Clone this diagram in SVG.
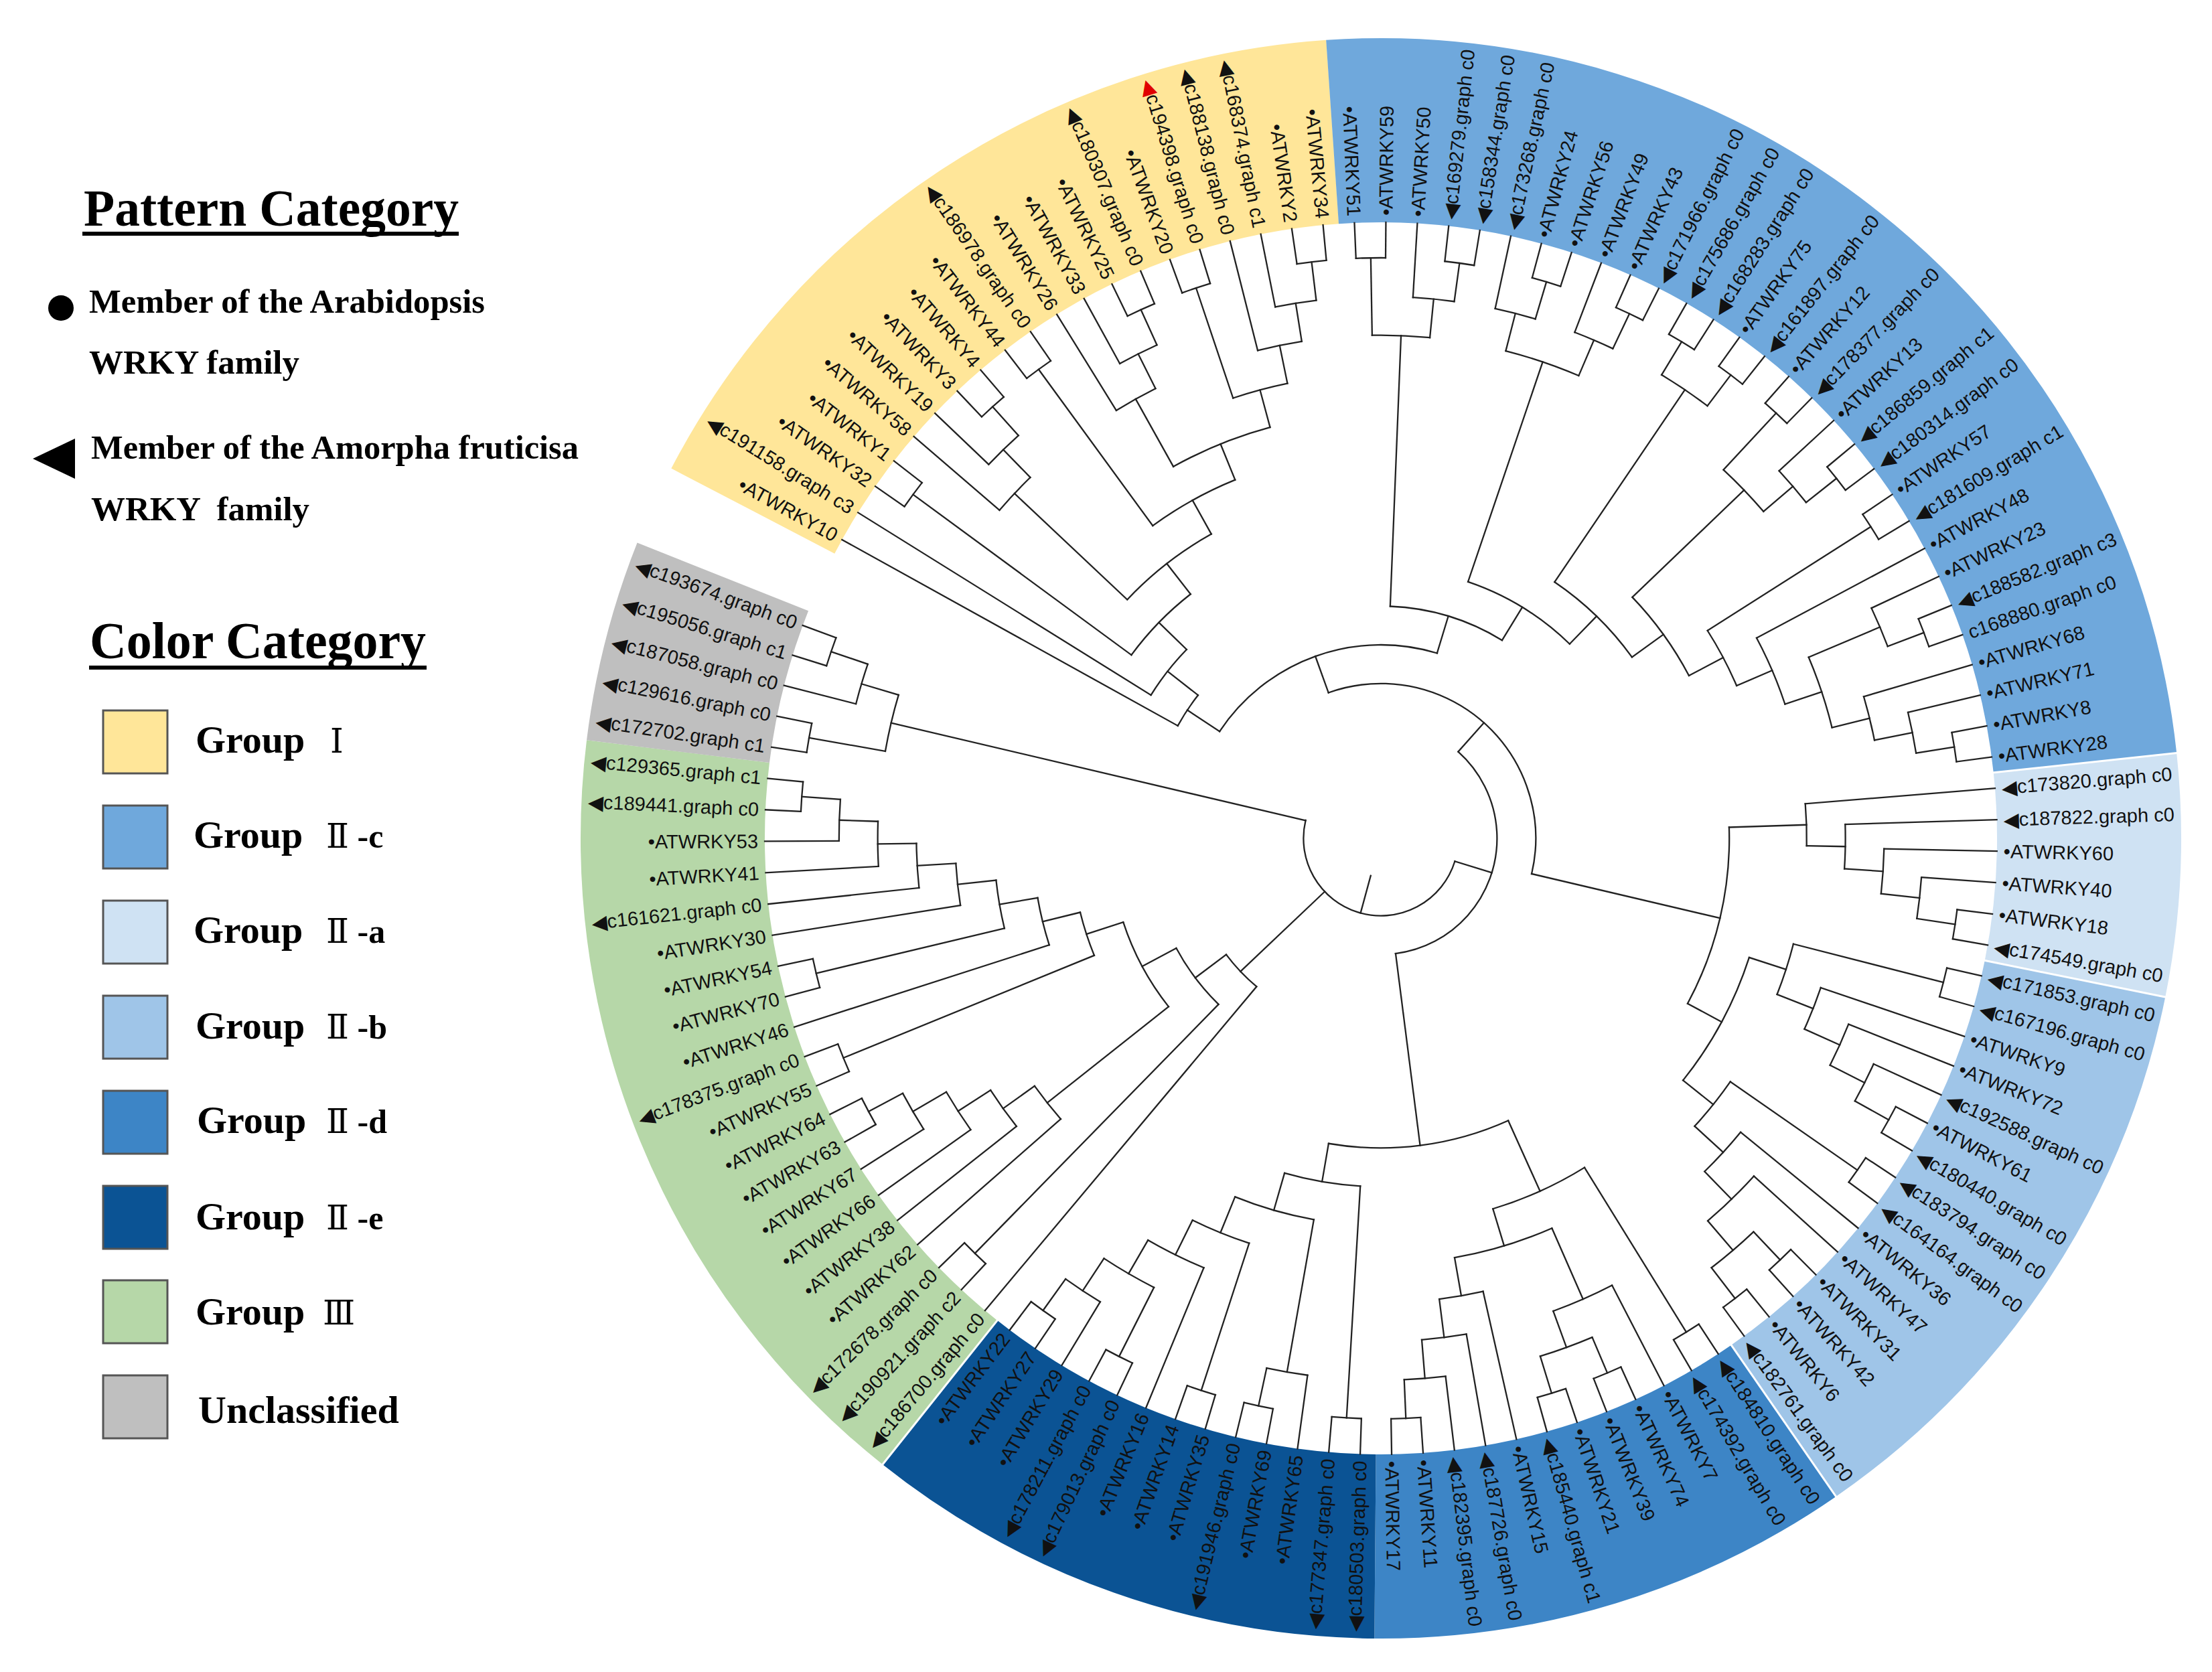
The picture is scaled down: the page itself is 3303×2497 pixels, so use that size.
<svg xmlns="http://www.w3.org/2000/svg" width="3303" height="2497" viewBox="0 0 3303 2497">
<style>
.t line{stroke:#222;stroke-width:2.3;stroke-linecap:square}
.t circle{fill:none;stroke:#222;stroke-width:2.3;stroke-linecap:square}
.b circle{fill:none;stroke-width:275}
.seam line{stroke:#fff;stroke-width:3}
.lb text{font-family:"Liberation Sans",Arial,sans-serif;font-size:29px;dominant-baseline:central;fill:#111}
.lb text.l{text-anchor:end}
.lb .m{font-family:"DejaVu Sans",sans-serif;font-size:30px}
.red{fill:#e00000}
.lg text{font-family:"Liberation Serif","Times New Roman",serif;font-weight:bold;fill:#000}
.lg text .rn{font-family:"Liberation Serif","DejaVu Serif","Noto Sans CJK SC",serif;font-weight:normal}
.box{stroke:#555;stroke-width:3}
</style>
<rect width="3303" height="2497" fill="#fff"/>
<g id="bands" class="b" transform="translate(2062 1252)">
<circle r="1057.5" stroke="#ffe699" stroke-dasharray="1080.4 9999" transform="rotate(-152.463)"/>
<circle r="1057.5" stroke="#6fa8dc" stroke-dasharray="1620.6 9999" transform="rotate(-93.927)"/>
<circle r="1057.5" stroke="#cfe2f3" stroke-dasharray="324.1 9999" transform="rotate(-6.122)"/>
<circle r="1057.5" stroke="#9fc5e8" stroke-dasharray="810.3 9999" transform="rotate(11.439)"/>
<circle r="1057.5" stroke="#3d85c6" stroke-dasharray="648.2 9999" transform="rotate(55.341)"/>
<circle r="1057.5" stroke="#0b5394" stroke-dasharray="702.3 9999" transform="rotate(90.463)"/>
<circle r="1057.5" stroke="#b6d7a8" stroke-dasharray="1080.4 9999" transform="rotate(128.512)"/>
<circle r="1057.5" stroke="#bfbfbf" stroke-dasharray="270.1 9999" transform="rotate(187.049)"/>
</g>
<g id="band-seams" class="seam" transform="translate(2062 1252)">
<line x1="918" x2="1200" transform="rotate(-6.122)"/>
<line x1="918" x2="1200" transform="rotate(11.439)"/>
<line x1="918" x2="1200" transform="rotate(55.341)"/>
<line x1="918" x2="1200" transform="rotate(128.512)"/>
</g>
<g id="connectors" class="t" transform="translate(2062 1252)">
<circle r="867" stroke-dasharray="44.29 9999" transform="rotate(-98.317)"/>
<circle r="809.2" stroke-dasharray="62 9999" transform="rotate(-101.244)"/>
<circle r="751.4" stroke-dasharray="67.17 9999" transform="rotate(-104.171)"/>
<circle r="867" stroke-dasharray="44.28 9999" transform="rotate(-110.024)"/>
<circle r="693.6" stroke-dasharray="84.15 9999" transform="rotate(-108.561)"/>
<circle r="867" stroke-dasharray="44.29 9999" transform="rotate(-115.878)"/>
<circle r="809.2" stroke-dasharray="62 9999" transform="rotate(-118.805)"/>
<circle r="751.4" stroke-dasharray="67.17 9999" transform="rotate(-121.732)"/>
<circle r="635.8" stroke-dasharray="156.3 9999" transform="rotate(-119.171)"/>
<circle r="867" stroke-dasharray="44.28 9999" transform="rotate(-127.585)"/>
<circle r="578" stroke-dasharray="141.16 9999" transform="rotate(-126.122)"/>
<circle r="867" stroke-dasharray="44.29 9999" transform="rotate(-133.439)"/>
<circle r="809.2" stroke-dasharray="62 9999" transform="rotate(-136.366)"/>
<circle r="751.4" stroke-dasharray="67.17 9999" transform="rotate(-139.293)"/>
<circle r="520.2" stroke-dasharray="159.85 9999" transform="rotate(-136.732)"/>
<circle r="867" stroke-dasharray="44.28 9999" transform="rotate(-145.146)"/>
<circle r="462.4" stroke-dasharray="127.14 9999" transform="rotate(-143.683)"/>
<circle r="404.6" stroke-dasharray="86.62 9999" transform="rotate(-148.073)"/>
<circle r="346.8" stroke-dasharray="54.84 9999" transform="rotate(-151)"/>
<circle r="867" stroke-dasharray="44.28 9999" transform="rotate(-92.463)"/>
<circle r="867" stroke-dasharray="44.29 9999" transform="rotate(-83.683)"/>
<circle r="809.2" stroke-dasharray="62 9999" transform="rotate(-86.61)"/>
<circle r="751.4" stroke-dasharray="86.36 9999" transform="rotate(-91)"/>
<circle r="867" stroke-dasharray="44.28 9999" transform="rotate(-74.902)"/>
<circle r="809.2" stroke-dasharray="62 9999" transform="rotate(-77.829)"/>
<circle r="867" stroke-dasharray="44.29 9999" transform="rotate(-66.122)"/>
<circle r="809.2" stroke-dasharray="62 9999" transform="rotate(-69.049)"/>
<circle r="751.4" stroke-dasharray="115.14 9999" transform="rotate(-75.634)"/>
<circle r="867" stroke-dasharray="44.29 9999" transform="rotate(-60.268)"/>
<circle r="867" stroke-dasharray="44.29 9999" transform="rotate(-54.415)"/>
<circle r="809.2" stroke-dasharray="82.66 9999" transform="rotate(-58.805)"/>
<circle r="867" stroke-dasharray="44.29 9999" transform="rotate(-48.561)"/>
<circle r="867" stroke-dasharray="44.28 9999" transform="rotate(-39.78)"/>
<circle r="809.2" stroke-dasharray="62 9999" transform="rotate(-42.707)"/>
<circle r="751.4" stroke-dasharray="86.37 9999" transform="rotate(-47.098)"/>
<circle r="867" stroke-dasharray="44.29 9999" transform="rotate(-33.927)"/>
<circle r="867" stroke-dasharray="44.29 9999" transform="rotate(-22.22)"/>
<circle r="809.2" stroke-dasharray="61.99 9999" transform="rotate(-25.146)"/>
<circle r="867" stroke-dasharray="44.29 9999" transform="rotate(-10.512)"/>
<circle r="809.2" stroke-dasharray="62 9999" transform="rotate(-13.439)"/>
<circle r="751.4" stroke-dasharray="67.17 9999" transform="rotate(-16.366)"/>
<circle r="693.6" stroke-dasharray="110.73 9999" transform="rotate(-22.952)"/>
<circle r="635.8" stroke-dasharray="107.57 9999" transform="rotate(-28.073)"/>
<circle r="578" stroke-dasharray="93.19 9999" transform="rotate(-32.464)"/>
<circle r="520.2" stroke-dasharray="144.9 9999" transform="rotate(-43.805)"/>
<circle r="462.4" stroke-dasharray="161.84 9999" transform="rotate(-55.879)"/>
<circle r="404.6" stroke-dasharray="179.31 9999" transform="rotate(-71.244)"/>
<circle r="346.8" stroke-dasharray="176.5 9999" transform="rotate(-87.708)"/>
<circle r="289" stroke-dasharray="369.94 9999" transform="rotate(-146.47)"/>
<circle r="867" stroke-dasharray="44.29 9999" transform="rotate(7.049)"/>
<circle r="809.2" stroke-dasharray="62.01 9999" transform="rotate(4.122)"/>
<circle r="751.4" stroke-dasharray="67.17 9999" transform="rotate(1.195)"/>
<circle r="693.6" stroke-dasharray="66.44 9999" transform="rotate(-1.732)"/>
<circle r="635.8" stroke-dasharray="62.93 9999" transform="rotate(-4.659)"/>
<circle r="867" stroke-dasharray="44.29 9999" transform="rotate(12.902)"/>
<circle r="867" stroke-dasharray="44.28 9999" transform="rotate(27.537)"/>
<circle r="809.2" stroke-dasharray="62 9999" transform="rotate(24.61)"/>
<circle r="751.4" stroke-dasharray="67.17 9999" transform="rotate(21.683)"/>
<circle r="693.6" stroke-dasharray="66.44 9999" transform="rotate(18.756)"/>
<circle r="635.8" stroke-dasharray="79.16 9999" transform="rotate(14.366)"/>
<circle r="867" stroke-dasharray="44.29 9999" transform="rotate(33.39)"/>
<circle r="867" stroke-dasharray="44.28 9999" transform="rotate(45.098)"/>
<circle r="867" stroke-dasharray="44.29 9999" transform="rotate(50.951)"/>
<circle r="809.2" stroke-dasharray="82.68 9999" transform="rotate(46.561)"/>
<circle r="751.4" stroke-dasharray="95.96 9999" transform="rotate(42.171)"/>
<circle r="693.6" stroke-dasharray="79.73 9999" transform="rotate(39.244)"/>
<circle r="635.8" stroke-dasharray="85.26 9999" transform="rotate(34.854)"/>
<circle r="578" stroke-dasharray="209.46 9999" transform="rotate(17.933)"/>
<circle r="520.2" stroke-dasharray="273.64 9999" transform="rotate(-1.824)"/>
<circle r="231.2" stroke-dasharray="496.51 9999" transform="rotate(-109.799)"/>
<circle r="867" stroke-dasharray="44.29 9999" transform="rotate(56.805)"/>
<circle r="867" stroke-dasharray="44.29 9999" transform="rotate(65.585)"/>
<circle r="867" stroke-dasharray="44.29 9999" transform="rotate(71.439)"/>
<circle r="809.2" stroke-dasharray="82.68 9999" transform="rotate(67.049)"/>
<circle r="751.4" stroke-dasharray="95.96 9999" transform="rotate(62.659)"/>
<circle r="867" stroke-dasharray="44.29 9999" transform="rotate(86.073)"/>
<circle r="809.2" stroke-dasharray="62.01 9999" transform="rotate(83.146)"/>
<circle r="751.4" stroke-dasharray="67.17 9999" transform="rotate(80.22)"/>
<circle r="693.6" stroke-dasharray="66.44 9999" transform="rotate(77.293)"/>
<circle r="635.8" stroke-dasharray="152.24 9999" transform="rotate(66.318)"/>
<circle r="578" stroke-dasharray="150.4 9999" transform="rotate(58.269)"/>
<circle r="867" stroke-dasharray="44.29 9999" transform="rotate(91.927)"/>
<circle r="867" stroke-dasharray="44.29 9999" transform="rotate(100.707)"/>
<circle r="809.2" stroke-dasharray="62.01 9999" transform="rotate(97.78)"/>
<circle r="867" stroke-dasharray="44.29 9999" transform="rotate(106.561)"/>
<circle r="867" stroke-dasharray="44.29 9999" transform="rotate(115.341)"/>
<circle r="867" stroke-dasharray="44.29 9999" transform="rotate(124.122)"/>
<circle r="809.2" stroke-dasharray="62.01 9999" transform="rotate(121.195)"/>
<circle r="751.4" stroke-dasharray="86.37 9999" transform="rotate(116.805)"/>
<circle r="693.6" stroke-dasharray="93.01 9999" transform="rotate(112.415)"/>
<circle r="635.8" stroke-dasharray="91.35 9999" transform="rotate(108.025)"/>
<circle r="578" stroke-dasharray="122.72 9999" transform="rotate(99.976)"/>
<circle r="520.2" stroke-dasharray="115.02 9999" transform="rotate(93.391)"/>
<circle r="462.4" stroke-dasharray="274.4 9999" transform="rotate(65.724)"/>
<circle r="173.4" stroke-dasharray="396.46 9999" transform="rotate(-48.277)"/>
<circle r="867" stroke-dasharray="44.29 9999" transform="rotate(132.902)"/>
<circle r="867" stroke-dasharray="44.29 9999" transform="rotate(150.463)"/>
<circle r="809.2" stroke-dasharray="62 9999" transform="rotate(147.537)"/>
<circle r="751.4" stroke-dasharray="67.17 9999" transform="rotate(144.61)"/>
<circle r="693.6" stroke-dasharray="66.44 9999" transform="rotate(141.683)"/>
<circle r="635.8" stroke-dasharray="62.93 9999" transform="rotate(138.756)"/>
<circle r="867" stroke-dasharray="44.29 9999" transform="rotate(156.317)"/>
<circle r="867" stroke-dasharray="44.28 9999" transform="rotate(182.659)"/>
<circle r="809.2" stroke-dasharray="62 9999" transform="rotate(179.732)"/>
<circle r="751.4" stroke-dasharray="67.17 9999" transform="rotate(176.805)"/>
<circle r="693.6" stroke-dasharray="66.44 9999" transform="rotate(173.878)"/>
<circle r="635.8" stroke-dasharray="62.93 9999" transform="rotate(170.951)"/>
<circle r="867" stroke-dasharray="44.28 9999" transform="rotate(165.098)"/>
<circle r="578" stroke-dasharray="72.9 9999" transform="rotate(166.561)"/>
<circle r="520.2" stroke-dasharray="72.66 9999" transform="rotate(162.171)"/>
<circle r="462.4" stroke-dasharray="67.73 9999" transform="rotate(157.781)"/>
<circle r="404.6" stroke-dasharray="143.95 9999" transform="rotate(141.592)"/>
<circle r="346.8" stroke-dasharray="105.43 9999" transform="rotate(134.366)"/>
<circle r="289" stroke-dasharray="66.08 9999" transform="rotate(129.976)"/>
<circle r="867" stroke-dasharray="44.29 9999" transform="rotate(188.512)"/>
<circle r="867" stroke-dasharray="44.29 9999" transform="rotate(197.293)"/>
<circle r="809.2" stroke-dasharray="62.01 9999" transform="rotate(194.366)"/>
<circle r="751.4" stroke-dasharray="86.37 9999" transform="rotate(189.976)"/>
<circle r="115.6" stroke-dasharray="355.19 9999" transform="rotate(17.224)"/>
<line x1="57.8" x2="115.6" transform="rotate(105.247)"/>
<line x1="809.2" x2="867" transform="rotate(-96.854)"/>
<line x1="751.4" x2="809.2" transform="rotate(-99.049)"/>
<line x1="693.6" x2="751.4" transform="rotate(-101.61)"/>
<line x1="693.6" x2="867" transform="rotate(-108.561)"/>
<line x1="635.8" x2="693.6" transform="rotate(-105.086)"/>
<line x1="809.2" x2="867" transform="rotate(-114.415)"/>
<line x1="751.4" x2="809.2" transform="rotate(-116.61)"/>
<line x1="635.8" x2="751.4" transform="rotate(-119.171)"/>
<line x1="578" x2="635.8" transform="rotate(-112.129)"/>
<line x1="578" x2="867" transform="rotate(-126.122)"/>
<line x1="520.2" x2="578" transform="rotate(-119.126)"/>
<line x1="809.2" x2="867" transform="rotate(-131.976)"/>
<line x1="751.4" x2="809.2" transform="rotate(-134.171)"/>
<line x1="520.2" x2="751.4" transform="rotate(-136.732)"/>
<line x1="462.4" x2="520.2" transform="rotate(-127.929)"/>
<line x1="462.4" x2="867" transform="rotate(-143.683)"/>
<line x1="404.6" x2="462.4" transform="rotate(-135.806)"/>
<line x1="346.8" x2="404.6" transform="rotate(-141.94)"/>
<line x1="289" x2="346.8" transform="rotate(-146.47)"/>
<line x1="751.4" x2="867" transform="rotate(-91)"/>
<line x1="809.2" x2="867" transform="rotate(-82.22)"/>
<line x1="751.4" x2="809.2" transform="rotate(-84.415)"/>
<line x1="346.8" x2="751.4" transform="rotate(-87.708)"/>
<line x1="809.2" x2="867" transform="rotate(-73.439)"/>
<line x1="751.4" x2="809.2" transform="rotate(-75.634)"/>
<line x1="809.2" x2="867" transform="rotate(-64.659)"/>
<line x1="751.4" x2="809.2" transform="rotate(-66.854)"/>
<line x1="404.6" x2="751.4" transform="rotate(-71.244)"/>
<line x1="809.2" x2="867" transform="rotate(-58.805)"/>
<line x1="809.2" x2="867" transform="rotate(-52.952)"/>
<line x1="462.4" x2="809.2" transform="rotate(-55.879)"/>
<line x1="751.4" x2="867" transform="rotate(-47.098)"/>
<line x1="809.2" x2="867" transform="rotate(-38.317)"/>
<line x1="751.4" x2="809.2" transform="rotate(-40.512)"/>
<line x1="520.2" x2="751.4" transform="rotate(-43.805)"/>
<line x1="578" x2="867" transform="rotate(-32.464)"/>
<line x1="809.2" x2="867" transform="rotate(-20.757)"/>
<line x1="693.6" x2="809.2" transform="rotate(-22.952)"/>
<line x1="809.2" x2="867" transform="rotate(-9.049)"/>
<line x1="751.4" x2="809.2" transform="rotate(-11.244)"/>
<line x1="693.6" x2="751.4" transform="rotate(-13.805)"/>
<line x1="635.8" x2="693.6" transform="rotate(-18.379)"/>
<line x1="578" x2="635.8" transform="rotate(-23.226)"/>
<line x1="520.2" x2="578" transform="rotate(-27.845)"/>
<line x1="462.4" x2="520.2" transform="rotate(-35.825)"/>
<line x1="404.6" x2="462.4" transform="rotate(-45.852)"/>
<line x1="346.8" x2="404.6" transform="rotate(-58.548)"/>
<line x1="289" x2="346.8" transform="rotate(-73.128)"/>
<line x1="231.2" x2="289" transform="rotate(-109.799)"/>
<line x1="809.2" x2="867" transform="rotate(8.513)"/>
<line x1="751.4" x2="809.2" transform="rotate(6.317)"/>
<line x1="693.6" x2="751.4" transform="rotate(3.756)"/>
<line x1="635.8" x2="693.6" transform="rotate(1.012)"/>
<line x1="520.2" x2="635.8" transform="rotate(-1.824)"/>
<line x1="635.8" x2="867" transform="rotate(14.366)"/>
<line x1="809.2" x2="867" transform="rotate(29)"/>
<line x1="751.4" x2="809.2" transform="rotate(26.805)"/>
<line x1="693.6" x2="751.4" transform="rotate(24.244)"/>
<line x1="635.8" x2="693.6" transform="rotate(21.5)"/>
<line x1="578" x2="635.8" transform="rotate(17.933)"/>
<line x1="635.8" x2="867" transform="rotate(34.854)"/>
<line x1="809.2" x2="867" transform="rotate(46.561)"/>
<line x1="809.2" x2="867" transform="rotate(52.415)"/>
<line x1="751.4" x2="809.2" transform="rotate(49.488)"/>
<line x1="693.6" x2="751.4" transform="rotate(45.83)"/>
<line x1="635.8" x2="693.6" transform="rotate(42.537)"/>
<line x1="578" x2="635.8" transform="rotate(38.696)"/>
<line x1="520.2" x2="578" transform="rotate(28.315)"/>
<line x1="231.2" x2="520.2" transform="rotate(13.246)"/>
<line x1="173.4" x2="231.2" transform="rotate(-48.277)"/>
<line x1="578" x2="867" transform="rotate(58.269)"/>
<line x1="809.2" x2="867" transform="rotate(67.049)"/>
<line x1="809.2" x2="867" transform="rotate(72.903)"/>
<line x1="751.4" x2="809.2" transform="rotate(69.976)"/>
<line x1="635.8" x2="751.4" transform="rotate(66.318)"/>
<line x1="809.2" x2="867" transform="rotate(87.537)"/>
<line x1="751.4" x2="809.2" transform="rotate(85.342)"/>
<line x1="693.6" x2="751.4" transform="rotate(82.781)"/>
<line x1="635.8" x2="693.6" transform="rotate(80.037)"/>
<line x1="578" x2="635.8" transform="rotate(73.178)"/>
<line x1="462.4" x2="578" transform="rotate(65.724)"/>
<line x1="520.2" x2="867" transform="rotate(93.391)"/>
<line x1="809.2" x2="867" transform="rotate(102.171)"/>
<line x1="578" x2="809.2" transform="rotate(99.976)"/>
<line x1="635.8" x2="867" transform="rotate(108.025)"/>
<line x1="751.4" x2="867" transform="rotate(116.805)"/>
<line x1="809.2" x2="867" transform="rotate(125.586)"/>
<line x1="751.4" x2="809.2" transform="rotate(123.391)"/>
<line x1="693.6" x2="751.4" transform="rotate(120.098)"/>
<line x1="635.8" x2="693.6" transform="rotate(116.257)"/>
<line x1="578" x2="635.8" transform="rotate(112.141)"/>
<line x1="520.2" x2="578" transform="rotate(106.059)"/>
<line x1="462.4" x2="520.2" transform="rotate(99.725)"/>
<line x1="173.4" x2="462.4" transform="rotate(82.725)"/>
<line x1="115.6" x2="173.4" transform="rotate(17.224)"/>
<line x1="346.8" x2="867" transform="rotate(134.366)"/>
<line x1="809.2" x2="867" transform="rotate(151.927)"/>
<line x1="751.4" x2="809.2" transform="rotate(149.732)"/>
<line x1="693.6" x2="751.4" transform="rotate(147.171)"/>
<line x1="635.8" x2="693.6" transform="rotate(144.427)"/>
<line x1="404.6" x2="635.8" transform="rotate(141.592)"/>
<line x1="462.4" x2="867" transform="rotate(157.781)"/>
<line x1="809.2" x2="867" transform="rotate(184.122)"/>
<line x1="751.4" x2="809.2" transform="rotate(181.927)"/>
<line x1="693.6" x2="751.4" transform="rotate(179.366)"/>
<line x1="635.8" x2="693.6" transform="rotate(176.622)"/>
<line x1="578" x2="635.8" transform="rotate(173.787)"/>
<line x1="578" x2="867" transform="rotate(166.561)"/>
<line x1="520.2" x2="578" transform="rotate(170.174)"/>
<line x1="462.4" x2="520.2" transform="rotate(166.173)"/>
<line x1="404.6" x2="462.4" transform="rotate(161.977)"/>
<line x1="346.8" x2="404.6" transform="rotate(151.785)"/>
<line x1="289" x2="346.8" transform="rotate(143.076)"/>
<line x1="115.6" x2="289" transform="rotate(136.526)"/>
<line x1="751.4" x2="867" transform="rotate(189.976)"/>
<line x1="809.2" x2="867" transform="rotate(198.757)"/>
<line x1="751.4" x2="809.2" transform="rotate(196.562)"/>
<line x1="115.6" x2="751.4" transform="rotate(193.269)"/>
<line x1="346.8" x2="920" transform="rotate(-151)"/>
<line x1="404.6" x2="920" transform="rotate(-148.073)"/>
<line x1="867" x2="920" transform="rotate(-145.146)"/>
<line x1="867" x2="920" transform="rotate(-142.22)"/>
<line x1="751.4" x2="920" transform="rotate(-139.293)"/>
<line x1="809.2" x2="920" transform="rotate(-136.366)"/>
<line x1="867" x2="920" transform="rotate(-133.439)"/>
<line x1="867" x2="920" transform="rotate(-130.512)"/>
<line x1="867" x2="920" transform="rotate(-127.585)"/>
<line x1="867" x2="920" transform="rotate(-124.659)"/>
<line x1="751.4" x2="920" transform="rotate(-121.732)"/>
<line x1="809.2" x2="920" transform="rotate(-118.805)"/>
<line x1="867" x2="920" transform="rotate(-115.878)"/>
<line x1="867" x2="920" transform="rotate(-112.951)"/>
<line x1="867" x2="920" transform="rotate(-110.024)"/>
<line x1="867" x2="920" transform="rotate(-107.098)"/>
<line x1="751.4" x2="920" transform="rotate(-104.171)"/>
<line x1="809.2" x2="920" transform="rotate(-101.244)"/>
<line x1="867" x2="920" transform="rotate(-98.317)"/>
<line x1="867" x2="920" transform="rotate(-95.39)"/>
<line x1="867" x2="920" transform="rotate(-92.463)"/>
<line x1="867" x2="920" transform="rotate(-89.537)"/>
<line x1="809.2" x2="920" transform="rotate(-86.61)"/>
<line x1="867" x2="920" transform="rotate(-83.683)"/>
<line x1="867" x2="920" transform="rotate(-80.756)"/>
<line x1="809.2" x2="920" transform="rotate(-77.829)"/>
<line x1="867" x2="920" transform="rotate(-74.902)"/>
<line x1="867" x2="920" transform="rotate(-71.976)"/>
<line x1="809.2" x2="920" transform="rotate(-69.049)"/>
<line x1="867" x2="920" transform="rotate(-66.122)"/>
<line x1="867" x2="920" transform="rotate(-63.195)"/>
<line x1="867" x2="920" transform="rotate(-60.268)"/>
<line x1="867" x2="920" transform="rotate(-57.341)"/>
<line x1="867" x2="920" transform="rotate(-54.415)"/>
<line x1="867" x2="920" transform="rotate(-51.488)"/>
<line x1="867" x2="920" transform="rotate(-48.561)"/>
<line x1="867" x2="920" transform="rotate(-45.634)"/>
<line x1="809.2" x2="920" transform="rotate(-42.707)"/>
<line x1="867" x2="920" transform="rotate(-39.78)"/>
<line x1="867" x2="920" transform="rotate(-36.854)"/>
<line x1="867" x2="920" transform="rotate(-33.927)"/>
<line x1="867" x2="920" transform="rotate(-31)"/>
<line x1="635.8" x2="920" transform="rotate(-28.073)"/>
<line x1="809.2" x2="920" transform="rotate(-25.146)"/>
<line x1="867" x2="920" transform="rotate(-22.22)"/>
<line x1="867" x2="920" transform="rotate(-19.293)"/>
<line x1="751.4" x2="920" transform="rotate(-16.366)"/>
<line x1="809.2" x2="920" transform="rotate(-13.439)"/>
<line x1="867" x2="920" transform="rotate(-10.512)"/>
<line x1="867" x2="920" transform="rotate(-7.585)"/>
<line x1="635.8" x2="920" transform="rotate(-4.659)"/>
<line x1="693.6" x2="920" transform="rotate(-1.732)"/>
<line x1="751.4" x2="920" transform="rotate(1.195)"/>
<line x1="809.2" x2="920" transform="rotate(4.122)"/>
<line x1="867" x2="920" transform="rotate(7.049)"/>
<line x1="867" x2="920" transform="rotate(9.976)"/>
<line x1="867" x2="920" transform="rotate(12.902)"/>
<line x1="867" x2="920" transform="rotate(15.829)"/>
<line x1="693.6" x2="920" transform="rotate(18.756)"/>
<line x1="751.4" x2="920" transform="rotate(21.683)"/>
<line x1="809.2" x2="920" transform="rotate(24.61)"/>
<line x1="867" x2="920" transform="rotate(27.537)"/>
<line x1="867" x2="920" transform="rotate(30.463)"/>
<line x1="867" x2="920" transform="rotate(33.39)"/>
<line x1="867" x2="920" transform="rotate(36.317)"/>
<line x1="693.6" x2="920" transform="rotate(39.244)"/>
<line x1="751.4" x2="920" transform="rotate(42.171)"/>
<line x1="867" x2="920" transform="rotate(45.098)"/>
<line x1="867" x2="920" transform="rotate(48.024)"/>
<line x1="867" x2="920" transform="rotate(50.951)"/>
<line x1="867" x2="920" transform="rotate(53.878)"/>
<line x1="867" x2="920" transform="rotate(56.805)"/>
<line x1="867" x2="920" transform="rotate(59.732)"/>
<line x1="751.4" x2="920" transform="rotate(62.659)"/>
<line x1="867" x2="920" transform="rotate(65.585)"/>
<line x1="867" x2="920" transform="rotate(68.512)"/>
<line x1="867" x2="920" transform="rotate(71.439)"/>
<line x1="867" x2="920" transform="rotate(74.366)"/>
<line x1="693.6" x2="920" transform="rotate(77.293)"/>
<line x1="751.4" x2="920" transform="rotate(80.22)"/>
<line x1="809.2" x2="920" transform="rotate(83.146)"/>
<line x1="867" x2="920" transform="rotate(86.073)"/>
<line x1="867" x2="920" transform="rotate(89)"/>
<line x1="867" x2="920" transform="rotate(91.927)"/>
<line x1="867" x2="920" transform="rotate(94.854)"/>
<line x1="809.2" x2="920" transform="rotate(97.78)"/>
<line x1="867" x2="920" transform="rotate(100.707)"/>
<line x1="867" x2="920" transform="rotate(103.634)"/>
<line x1="867" x2="920" transform="rotate(106.561)"/>
<line x1="867" x2="920" transform="rotate(109.488)"/>
<line x1="693.6" x2="920" transform="rotate(112.415)"/>
<line x1="867" x2="920" transform="rotate(115.341)"/>
<line x1="867" x2="920" transform="rotate(118.268)"/>
<line x1="809.2" x2="920" transform="rotate(121.195)"/>
<line x1="867" x2="920" transform="rotate(124.122)"/>
<line x1="867" x2="920" transform="rotate(127.049)"/>
<line x1="289" x2="920" transform="rotate(129.976)"/>
<line x1="867" x2="920" transform="rotate(132.902)"/>
<line x1="867" x2="920" transform="rotate(135.829)"/>
<line x1="635.8" x2="920" transform="rotate(138.756)"/>
<line x1="693.6" x2="920" transform="rotate(141.683)"/>
<line x1="751.4" x2="920" transform="rotate(144.61)"/>
<line x1="809.2" x2="920" transform="rotate(147.537)"/>
<line x1="867" x2="920" transform="rotate(150.463)"/>
<line x1="867" x2="920" transform="rotate(153.39)"/>
<line x1="867" x2="920" transform="rotate(156.317)"/>
<line x1="867" x2="920" transform="rotate(159.244)"/>
<line x1="520.2" x2="920" transform="rotate(162.171)"/>
<line x1="867" x2="920" transform="rotate(165.098)"/>
<line x1="867" x2="920" transform="rotate(168.024)"/>
<line x1="635.8" x2="920" transform="rotate(170.951)"/>
<line x1="693.6" x2="920" transform="rotate(173.878)"/>
<line x1="751.4" x2="920" transform="rotate(176.805)"/>
<line x1="809.2" x2="920" transform="rotate(179.732)"/>
<line x1="867" x2="920" transform="rotate(182.659)"/>
<line x1="867" x2="920" transform="rotate(185.585)"/>
<line x1="867" x2="920" transform="rotate(188.512)"/>
<line x1="867" x2="920" transform="rotate(191.439)"/>
<line x1="809.2" x2="920" transform="rotate(194.366)"/>
<line x1="867" x2="920" transform="rotate(197.293)"/>
<line x1="867" x2="920" transform="rotate(200.22)"/>
</g>
<g id="labels" class="lb" transform="translate(2062 1252)">
<g id="leaf1"><text class="l" transform="rotate(-151) translate(930) rotate(180)">•ATWRKY10</text></g>
<g id="leaf2"><text class="l" transform="rotate(-148.073) translate(930) rotate(180)"><tspan class="m">◀</tspan>c191158.graph c3</text></g>
<g id="leaf3"><text class="l" transform="rotate(-145.146) translate(930) rotate(180)">•ATWRKY32</text></g>
<g id="leaf4"><text class="l" transform="rotate(-142.22) translate(930) rotate(180)">•ATWRKY1</text></g>
<g id="leaf5"><text class="l" transform="rotate(-139.293) translate(930) rotate(180)">•ATWRKY58</text></g>
<g id="leaf6"><text class="l" transform="rotate(-136.366) translate(930) rotate(180)">•ATWRKY19</text></g>
<g id="leaf7"><text class="l" transform="rotate(-133.439) translate(930) rotate(180)">•ATWRKY3</text></g>
<g id="leaf8"><text class="l" transform="rotate(-130.512) translate(930) rotate(180)">•ATWRKY4</text></g>
<g id="leaf9"><text class="l" transform="rotate(-127.585) translate(930) rotate(180)">•ATWRKY44</text></g>
<g id="leaf10"><text class="l" transform="rotate(-124.659) translate(930) rotate(180)"><tspan class="m">◀</tspan>c186978.graph c0</text></g>
<g id="leaf11"><text class="l" transform="rotate(-121.732) translate(930) rotate(180)">•ATWRKY26</text></g>
<g id="leaf12"><text class="l" transform="rotate(-118.805) translate(930) rotate(180)">•ATWRKY33</text></g>
<g id="leaf13"><text class="l" transform="rotate(-115.878) translate(930) rotate(180)">•ATWRKY25</text></g>
<g id="leaf14"><text class="l" transform="rotate(-112.951) translate(930) rotate(180)"><tspan class="m">◀</tspan>c180307.graph c0</text></g>
<g id="leaf15"><text class="l" transform="rotate(-110.024) translate(930) rotate(180)">•ATWRKY20</text></g>
<g id="leaf16"><text class="l" transform="rotate(-107.098) translate(930) rotate(180)"><tspan class="m red">◀</tspan>c194398.graph c0</text></g>
<g id="leaf17"><text class="l" transform="rotate(-104.171) translate(930) rotate(180)"><tspan class="m">◀</tspan>c188138.graph c0</text></g>
<g id="leaf18"><text class="l" transform="rotate(-101.244) translate(930) rotate(180)"><tspan class="m">◀</tspan>c168374.graph c1</text></g>
<g id="leaf19"><text class="l" transform="rotate(-98.317) translate(930) rotate(180)">•ATWRKY2</text></g>
<g id="leaf20"><text class="l" transform="rotate(-95.39) translate(930) rotate(180)">•ATWRKY34</text></g>
<g id="leaf21"><text class="l" transform="rotate(-92.463) translate(930) rotate(180)">•ATWRKY51</text></g>
<g id="leaf22"><text transform="rotate(-89.537) translate(930)">•ATWRKY59</text></g>
<g id="leaf23"><text transform="rotate(-86.61) translate(930)">•ATWRKY50</text></g>
<g id="leaf24"><text transform="rotate(-83.683) translate(930)"><tspan class="m">◀</tspan>c169279.graph c0</text></g>
<g id="leaf25"><text transform="rotate(-80.756) translate(930)"><tspan class="m">◀</tspan>c158344.graph c0</text></g>
<g id="leaf26"><text transform="rotate(-77.829) translate(930)"><tspan class="m">◀</tspan>c173268.graph c0</text></g>
<g id="leaf27"><text transform="rotate(-74.902) translate(930)">•ATWRKY24</text></g>
<g id="leaf28"><text transform="rotate(-71.976) translate(930)">•ATWRKY56</text></g>
<g id="leaf29"><text transform="rotate(-69.049) translate(930)">•ATWRKY49</text></g>
<g id="leaf30"><text transform="rotate(-66.122) translate(930)">•ATWRKY43</text></g>
<g id="leaf31"><text transform="rotate(-63.195) translate(930)"><tspan class="m">◀</tspan>c171966.graph c0</text></g>
<g id="leaf32"><text transform="rotate(-60.268) translate(930)"><tspan class="m">◀</tspan>c175686.graph c0</text></g>
<g id="leaf33"><text transform="rotate(-57.341) translate(930)"><tspan class="m">◀</tspan>c168283.graph c0</text></g>
<g id="leaf34"><text transform="rotate(-54.415) translate(930)">•ATWRKY75</text></g>
<g id="leaf35"><text transform="rotate(-51.488) translate(930)"><tspan class="m">◀</tspan>c161897.graph c0</text></g>
<g id="leaf36"><text transform="rotate(-48.561) translate(930)">•ATWRKY12</text></g>
<g id="leaf37"><text transform="rotate(-45.634) translate(930)"><tspan class="m">◀</tspan>c178377.graph c0</text></g>
<g id="leaf38"><text transform="rotate(-42.707) translate(930)">•ATWRKY13</text></g>
<g id="leaf39"><text transform="rotate(-39.78) translate(930)"><tspan class="m">◀</tspan>c186859.graph c1</text></g>
<g id="leaf40"><text transform="rotate(-36.854) translate(930)"><tspan class="m">◀</tspan>c180314.graph c0</text></g>
<g id="leaf41"><text transform="rotate(-33.927) translate(930)">•ATWRKY57</text></g>
<g id="leaf42"><text transform="rotate(-31) translate(930)"><tspan class="m">◀</tspan>c181609.graph c1</text></g>
<g id="leaf43"><text transform="rotate(-28.073) translate(930)">•ATWRKY48</text></g>
<g id="leaf44"><text transform="rotate(-25.146) translate(930)">•ATWRKY23</text></g>
<g id="leaf45"><text transform="rotate(-22.22) translate(930)"><tspan class="m">◀</tspan>c188582.graph c3</text></g>
<g id="leaf46"><text transform="rotate(-19.293) translate(930)">c168880.graph c0</text></g>
<g id="leaf47"><text transform="rotate(-16.366) translate(930)">•ATWRKY68</text></g>
<g id="leaf48"><text transform="rotate(-13.439) translate(930)">•ATWRKY71</text></g>
<g id="leaf49"><text transform="rotate(-10.512) translate(930)">•ATWRKY8</text></g>
<g id="leaf50"><text transform="rotate(-7.585) translate(930)">•ATWRKY28</text></g>
<g id="leaf51"><text transform="rotate(-4.659) translate(930)"><tspan class="m">◀</tspan>c173820.graph c0</text></g>
<g id="leaf52"><text transform="rotate(-1.732) translate(930)"><tspan class="m">◀</tspan>c187822.graph c0</text></g>
<g id="leaf53"><text transform="rotate(1.195) translate(930)">•ATWRKY60</text></g>
<g id="leaf54"><text transform="rotate(4.122) translate(930)">•ATWRKY40</text></g>
<g id="leaf55"><text transform="rotate(7.049) translate(930)">•ATWRKY18</text></g>
<g id="leaf56"><text transform="rotate(9.976) translate(930)"><tspan class="m">◀</tspan>c174549.graph c0</text></g>
<g id="leaf57"><text transform="rotate(12.902) translate(930)"><tspan class="m">◀</tspan>c171853.graph c0</text></g>
<g id="leaf58"><text transform="rotate(15.829) translate(930)"><tspan class="m">◀</tspan>c167196.graph c0</text></g>
<g id="leaf59"><text transform="rotate(18.756) translate(930)">•ATWRKY9</text></g>
<g id="leaf60"><text transform="rotate(21.683) translate(930)">•ATWRKY72</text></g>
<g id="leaf61"><text transform="rotate(24.61) translate(930)"><tspan class="m">◀</tspan>c192588.graph c0</text></g>
<g id="leaf62"><text transform="rotate(27.537) translate(930)">•ATWRKY61</text></g>
<g id="leaf63"><text transform="rotate(30.463) translate(930)"><tspan class="m">◀</tspan>c180440.graph c0</text></g>
<g id="leaf64"><text transform="rotate(33.39) translate(930)"><tspan class="m">◀</tspan>c183794.graph c0</text></g>
<g id="leaf65"><text transform="rotate(36.317) translate(930)"><tspan class="m">◀</tspan>c164164.graph c0</text></g>
<g id="leaf66"><text transform="rotate(39.244) translate(930)">•ATWRKY36</text></g>
<g id="leaf67"><text transform="rotate(42.171) translate(930)">•ATWRKY47</text></g>
<g id="leaf68"><text transform="rotate(45.098) translate(930)">•ATWRKY31</text></g>
<g id="leaf69"><text transform="rotate(48.024) translate(930)">•ATWRKY42</text></g>
<g id="leaf70"><text transform="rotate(50.951) translate(930)">•ATWRKY6</text></g>
<g id="leaf71"><text transform="rotate(53.878) translate(930)"><tspan class="m">◀</tspan>c182761.graph c0</text></g>
<g id="leaf72"><text transform="rotate(56.805) translate(930)"><tspan class="m">◀</tspan>c184810.graph c0</text></g>
<g id="leaf73"><text transform="rotate(59.732) translate(930)"><tspan class="m">◀</tspan>c174392.graph c0</text></g>
<g id="leaf74"><text transform="rotate(62.659) translate(930)">•ATWRKY7</text></g>
<g id="leaf75"><text transform="rotate(65.585) translate(930)">•ATWRKY74</text></g>
<g id="leaf76"><text transform="rotate(68.512) translate(930)">•ATWRKY39</text></g>
<g id="leaf77"><text transform="rotate(71.439) translate(930)">•ATWRKY21</text></g>
<g id="leaf78"><text transform="rotate(74.366) translate(930)"><tspan class="m">◀</tspan>c185440.graph c1</text></g>
<g id="leaf79"><text transform="rotate(77.293) translate(930)">•ATWRKY15</text></g>
<g id="leaf80"><text transform="rotate(80.22) translate(930)"><tspan class="m">◀</tspan>c187726.graph c0</text></g>
<g id="leaf81"><text transform="rotate(83.146) translate(930)"><tspan class="m">◀</tspan>c182395.graph c0</text></g>
<g id="leaf82"><text transform="rotate(86.073) translate(930)">•ATWRKY11</text></g>
<g id="leaf83"><text transform="rotate(89) translate(930)">•ATWRKY17</text></g>
<g id="leaf84"><text class="l" transform="rotate(91.927) translate(930) rotate(180)"><tspan class="m">◀</tspan>c180503.graph c0</text></g>
<g id="leaf85"><text class="l" transform="rotate(94.854) translate(930) rotate(180)"><tspan class="m">◀</tspan>c177347.graph c0</text></g>
<g id="leaf86"><text class="l" transform="rotate(97.78) translate(930) rotate(180)">•ATWRKY65</text></g>
<g id="leaf87"><text class="l" transform="rotate(100.707) translate(930) rotate(180)">•ATWRKY69</text></g>
<g id="leaf88"><text class="l" transform="rotate(103.634) translate(930) rotate(180)"><tspan class="m">◀</tspan>c191946.graph c0</text></g>
<g id="leaf89"><text class="l" transform="rotate(106.561) translate(930) rotate(180)">•ATWRKY35</text></g>
<g id="leaf90"><text class="l" transform="rotate(109.488) translate(930) rotate(180)">•ATWRKY14</text></g>
<g id="leaf91"><text class="l" transform="rotate(112.415) translate(930) rotate(180)">•ATWRKY16</text></g>
<g id="leaf92"><text class="l" transform="rotate(115.341) translate(930) rotate(180)"><tspan class="m">◀</tspan>c179013.graph c0</text></g>
<g id="leaf93"><text class="l" transform="rotate(118.268) translate(930) rotate(180)"><tspan class="m">◀</tspan>c178211.graph c0</text></g>
<g id="leaf94"><text class="l" transform="rotate(121.195) translate(930) rotate(180)">•ATWRKY29</text></g>
<g id="leaf95"><text class="l" transform="rotate(124.122) translate(930) rotate(180)">•ATWRKY27</text></g>
<g id="leaf96"><text class="l" transform="rotate(127.049) translate(930) rotate(180)">•ATWRKY22</text></g>
<g id="leaf97"><text class="l" transform="rotate(129.976) translate(930) rotate(180)"><tspan class="m">◀</tspan>c186700.graph c0</text></g>
<g id="leaf98"><text class="l" transform="rotate(132.902) translate(930) rotate(180)"><tspan class="m">◀</tspan>c190921.graph c2</text></g>
<g id="leaf99"><text class="l" transform="rotate(135.829) translate(930) rotate(180)"><tspan class="m">◀</tspan>c172678.graph c0</text></g>
<g id="leaf100"><text class="l" transform="rotate(138.756) translate(930) rotate(180)">•ATWRKY62</text></g>
<g id="leaf101"><text class="l" transform="rotate(141.683) translate(930) rotate(180)">•ATWRKY38</text></g>
<g id="leaf102"><text class="l" transform="rotate(144.61) translate(930) rotate(180)">•ATWRKY66</text></g>
<g id="leaf103"><text class="l" transform="rotate(147.537) translate(930) rotate(180)">•ATWRKY67</text></g>
<g id="leaf104"><text class="l" transform="rotate(150.463) translate(930) rotate(180)">•ATWRKY63</text></g>
<g id="leaf105"><text class="l" transform="rotate(153.39) translate(930) rotate(180)">•ATWRKY64</text></g>
<g id="leaf106"><text class="l" transform="rotate(156.317) translate(930) rotate(180)">•ATWRKY55</text></g>
<g id="leaf107"><text class="l" transform="rotate(159.244) translate(930) rotate(180)"><tspan class="m">◀</tspan>c178375.graph c0</text></g>
<g id="leaf108"><text class="l" transform="rotate(162.171) translate(930) rotate(180)">•ATWRKY46</text></g>
<g id="leaf109"><text class="l" transform="rotate(165.098) translate(930) rotate(180)">•ATWRKY70</text></g>
<g id="leaf110"><text class="l" transform="rotate(168.024) translate(930) rotate(180)">•ATWRKY54</text></g>
<g id="leaf111"><text class="l" transform="rotate(170.951) translate(930) rotate(180)">•ATWRKY30</text></g>
<g id="leaf112"><text class="l" transform="rotate(173.878) translate(930) rotate(180)"><tspan class="m">◀</tspan>c161621.graph c0</text></g>
<g id="leaf113"><text class="l" transform="rotate(176.805) translate(930) rotate(180)">•ATWRKY41</text></g>
<g id="leaf114"><text class="l" transform="rotate(179.732) translate(930) rotate(180)">•ATWRKY53</text></g>
<g id="leaf115"><text class="l" transform="rotate(182.659) translate(930) rotate(180)"><tspan class="m">◀</tspan>c189441.graph c0</text></g>
<g id="leaf116"><text class="l" transform="rotate(185.585) translate(930) rotate(180)"><tspan class="m">◀</tspan>c129365.graph c1</text></g>
<g id="leaf117"><text class="l" transform="rotate(188.512) translate(930) rotate(180)"><tspan class="m">◀</tspan>c172702.graph c1</text></g>
<g id="leaf118"><text class="l" transform="rotate(191.439) translate(930) rotate(180)"><tspan class="m">◀</tspan>c129616.graph c0</text></g>
<g id="leaf119"><text class="l" transform="rotate(194.366) translate(930) rotate(180)"><tspan class="m">◀</tspan>c187058.graph c0</text></g>
<g id="leaf120"><text class="l" transform="rotate(197.293) translate(930) rotate(180)"><tspan class="m">◀</tspan>c195056.graph c1</text></g>
<g id="leaf121"><text class="l" transform="rotate(200.22) translate(930) rotate(180)"><tspan class="m">◀</tspan>c193674.graph c0</text></g>
</g>
<g id="legend" class="lg">
<g id="pattern-title"><text x="125" y="337" font-size="78" textLength="560" lengthAdjust="spacingAndGlyphs">Pattern Category</text><rect x="123" y="346" width="562" height="6" fill="#000"/></g>
<g id="pattern-arabidopsis"><circle cx="91" cy="460" r="19" fill="#000"/><text x="133" y="467" font-size="51" textLength="591" lengthAdjust="spacingAndGlyphs">Member of the Arabidopsis</text><text x="133" y="558" font-size="51" textLength="314" lengthAdjust="spacingAndGlyphs">WRKY family</text></g>
<g id="pattern-amorpha"><polygon points="49,685 112,655 112,715" fill="#000"/><text x="136" y="685" font-size="51" textLength="728" lengthAdjust="spacingAndGlyphs">Member of the Amorpha fruticisa</text><text x="136" y="777" font-size="51" textLength="326" lengthAdjust="spacingAndGlyphs" xml:space="preserve">WRKY  family</text></g>
<g id="color-title"><text x="134" y="983" font-size="78" textLength="502" lengthAdjust="spacingAndGlyphs">Color Category</text><rect x="133" y="994" width="504" height="6" fill="#000"/></g>
<g id="key-I"><rect class="box" x="154" y="1061" width="96" height="94" fill="#ffe699"/><text x="292" y="1124" font-size="58">Group</text><text x="493" y="1124" font-size="50"><tspan class="rn">Ⅰ</tspan></text></g>
<g id="key-IIc"><rect class="box" x="154" y="1203" width="96" height="94" fill="#6fa8dc"/><text x="289" y="1266" font-size="58">Group</text><text x="487" y="1266" font-size="50"><tspan class="rn">Ⅱ</tspan> -c</text></g>
<g id="key-IIa"><rect class="box" x="154" y="1345" width="96" height="94" fill="#cfe2f3"/><text x="289" y="1408" font-size="58">Group</text><text x="487" y="1408" font-size="50"><tspan class="rn">Ⅱ</tspan> -a</text></g>
<g id="key-IIb"><rect class="box" x="154" y="1487" width="96" height="94" fill="#9fc5e8"/><text x="292" y="1551" font-size="58">Group</text><text x="487" y="1551" font-size="50"><tspan class="rn">Ⅱ</tspan> -b</text></g>
<g id="key-IId"><rect class="box" x="154" y="1629" width="96" height="94" fill="#3d85c6"/><text x="294" y="1692" font-size="58">Group</text><text x="487" y="1692" font-size="50"><tspan class="rn">Ⅱ</tspan> -d</text></g>
<g id="key-IIe"><rect class="box" x="154" y="1771" width="96" height="94" fill="#0b5394"/><text x="292" y="1836" font-size="58">Group</text><text x="487" y="1836" font-size="50"><tspan class="rn">Ⅱ</tspan> -e</text></g>
<g id="key-III"><rect class="box" x="154" y="1912" width="96" height="94" fill="#b6d7a8"/><text x="292" y="1978" font-size="58">Group</text><text x="482" y="1978" font-size="50"><tspan class="rn">Ⅲ</tspan></text></g>
<g id="key-U"><rect class="box" x="154" y="2054" width="96" height="94" fill="#bfbfbf"/><text x="296" y="2125" font-size="58">Unclassified</text></g>
</g>
</svg>
